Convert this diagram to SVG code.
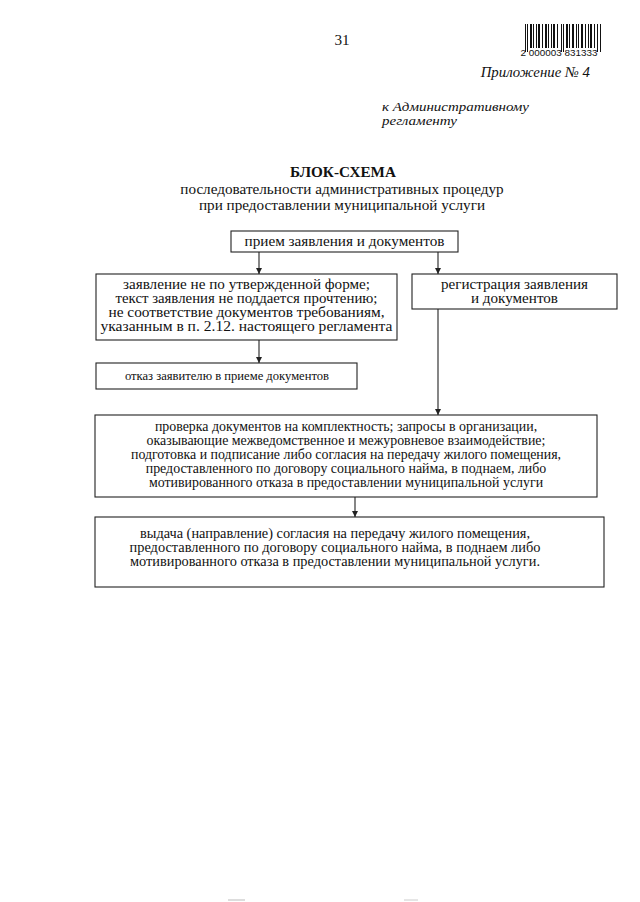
<svg xmlns="http://www.w3.org/2000/svg" width="640" height="902" viewBox="0 0 640 902">
<defs>
<style>
.t{font-family:"Liberation Serif","Times New Roman",serif;font-size:14px;fill:#111;}
.c{text-anchor:middle;}
.h{font-size:15.2px;}
.i{font-style:italic;font-size:13.2px;}
.s5{font-size:13.9px;}
.s6{font-size:13.9px;}
.b{fill:#fff;stroke:#222;stroke-width:1.1;}
.l{stroke:#222;stroke-width:1.1;fill:none;}
.bar{fill:#111;}
</style>
<marker id="ah" viewBox="0 0 10 10" refX="10" refY="5" markerWidth="6" markerHeight="6" markerUnits="userSpaceOnUse" orient="auto">
<path d="M0,0 L10,5 L0,10 z" fill="#222"/>
</marker>
</defs>
<rect width="640" height="902" fill="#fff"/>

<g id="header">
<text class="t c h" x="342" y="45">31</text>
<g id="barcode" class="bar">
<rect x="525" y="24" width="1" height="28"/><rect x="527" y="24" width="1" height="28"/><rect x="530" y="24" width="2" height="24"/>
<rect x="533" y="24" width="1" height="24"/><rect x="536" y="24" width="1" height="24"/><rect x="538" y="24" width="2" height="24"/>
<rect x="542" y="24" width="1" height="24"/><rect x="545" y="24" width="2" height="24"/><rect x="548" y="24" width="1" height="24"/>
<rect x="551" y="24" width="1" height="24"/><rect x="553" y="24" width="2" height="24"/><rect x="557" y="24" width="1" height="24"/>
<rect x="561" y="24" width="1" height="28"/><rect x="563" y="24" width="1" height="28"/><rect x="566" y="24" width="2" height="24"/>
<rect x="569" y="24" width="1" height="24"/><rect x="572" y="24" width="2" height="24"/><rect x="576" y="24" width="1" height="24"/>
<rect x="578" y="24" width="1" height="24"/><rect x="581" y="24" width="2" height="24"/><rect x="585" y="24" width="1" height="24"/>
<rect x="588" y="24" width="1" height="24"/><rect x="590" y="24" width="2" height="24"/><rect x="594" y="24" width="1" height="24"/>
<rect x="597" y="24" width="1" height="28"/><rect x="600" y="24" width="1" height="28"/>
</g>
<text x="559" y="56" text-anchor="middle" style="font-family:'Liberation Sans',Arial,sans-serif;font-size:9.9px;fill:#111;">2 000003 831333</text>
<text class="t" x="590" y="77" text-anchor="end" style="font-style:italic;font-size:14.8px;">Приложение № 4</text>
<text class="t i" x="382" y="111" textLength="147" lengthAdjust="spacingAndGlyphs">к Административному</text>
<text class="t i" x="382" y="125" textLength="75" lengthAdjust="spacingAndGlyphs">регламенту</text>
</g>

<g id="title">
<text class="t c h" x="343" y="177" style="font-weight:bold;">БЛОК-СХЕМА</text>
<text class="t c h" x="342" y="194">последовательности административных процедур</text>
<text class="t c h" x="342" y="210">при предоставлении муниципальной услуги</text>
</g>

<g id="connectors">
<line class="l" x1="259" y1="252" x2="259" y2="274" marker-end="url(#ah)"/>
<line class="l" x1="438" y1="252" x2="438" y2="274" marker-end="url(#ah)"/>
<line class="l" x1="259" y1="340" x2="259" y2="363" marker-end="url(#ah)"/>
<line class="l" x1="438" y1="309" x2="438" y2="415" marker-end="url(#ah)"/>
<line class="l" x1="355" y1="497" x2="355" y2="517" marker-end="url(#ah)"/>
</g>

<g id="n1">
<rect class="b" x="231" y="231" width="227" height="21"/>
<text class="t c" x="344.5" y="246" textLength="200" lengthAdjust="spacingAndGlyphs">прием заявления и документов</text>
</g>

<g id="n2">
<rect class="b" x="96" y="274" width="301" height="66"/>
<text class="t c" x="246.5" y="289" textLength="247" lengthAdjust="spacingAndGlyphs">заявление не по утвержденной форме;</text>
<text class="t c" x="246.5" y="303" textLength="262" lengthAdjust="spacingAndGlyphs">текст заявления не поддается прочтению;</text>
<text class="t c" x="246.5" y="317" textLength="276" lengthAdjust="spacingAndGlyphs">не соответствие документов требованиям,</text>
<text class="t c" x="246.5" y="331" textLength="292" lengthAdjust="spacingAndGlyphs">указанным в п. 2.12. настоящего регламента</text>
</g>

<g id="n3">
<rect class="b" x="412" y="274" width="205" height="35"/>
<text class="t c" x="514.5" y="289" textLength="147" lengthAdjust="spacingAndGlyphs">регистрация заявления</text>
<text class="t c" x="514.5" y="303" textLength="87" lengthAdjust="spacingAndGlyphs">и документов</text>
</g>

<g id="n4">
<rect class="b" x="96" y="363" width="261" height="26"/>
<text class="t c" x="227" y="380" style="font-size:12.6px;">отказ заявителю в приеме документов</text>
</g>

<g id="n5">
<rect class="b" x="95" y="415" width="502" height="82"/>
<text class="t c s5" x="346" y="431">проверка документов на комплектность;  запросы в организации,</text>
<text class="t c s5" x="346" y="445">оказывающие межведомственное и межуровневое взаимодействие;</text>
<text class="t c s5" x="346" y="459">подготовка и подписание либо согласия на передачу жилого помещения,</text>
<text class="t c s5" x="346" y="473">предоставленного по договору социального найма, в поднаем, либо</text>
<text class="t c s5" x="346" y="487">мотивированного отказа в предоставлении муниципальной услуги</text>
</g>

<g id="n6">
<rect class="b" x="95" y="517" width="509" height="70"/>
<text class="t c s6" x="335" y="538" textLength="390" lengthAdjust="spacingAndGlyphs">выдача (направление) согласия на передачу жилого помещения,</text>
<text class="t c s6" x="335" y="552" textLength="411" lengthAdjust="spacingAndGlyphs">предоставленного по договору социального найма, в поднаем либо</text>
<text class="t c s6" x="335" y="566" textLength="410" lengthAdjust="spacingAndGlyphs">мотивированного отказа в предоставлении муниципальной услуги.</text>
</g>

<g id="marks">
<line x1="228" y1="900" x2="245" y2="900" stroke="#bbb" stroke-width="1"/>
<line x1="404" y1="900" x2="418" y2="900" stroke="#ccc" stroke-width="1"/>
</g>
</svg>
